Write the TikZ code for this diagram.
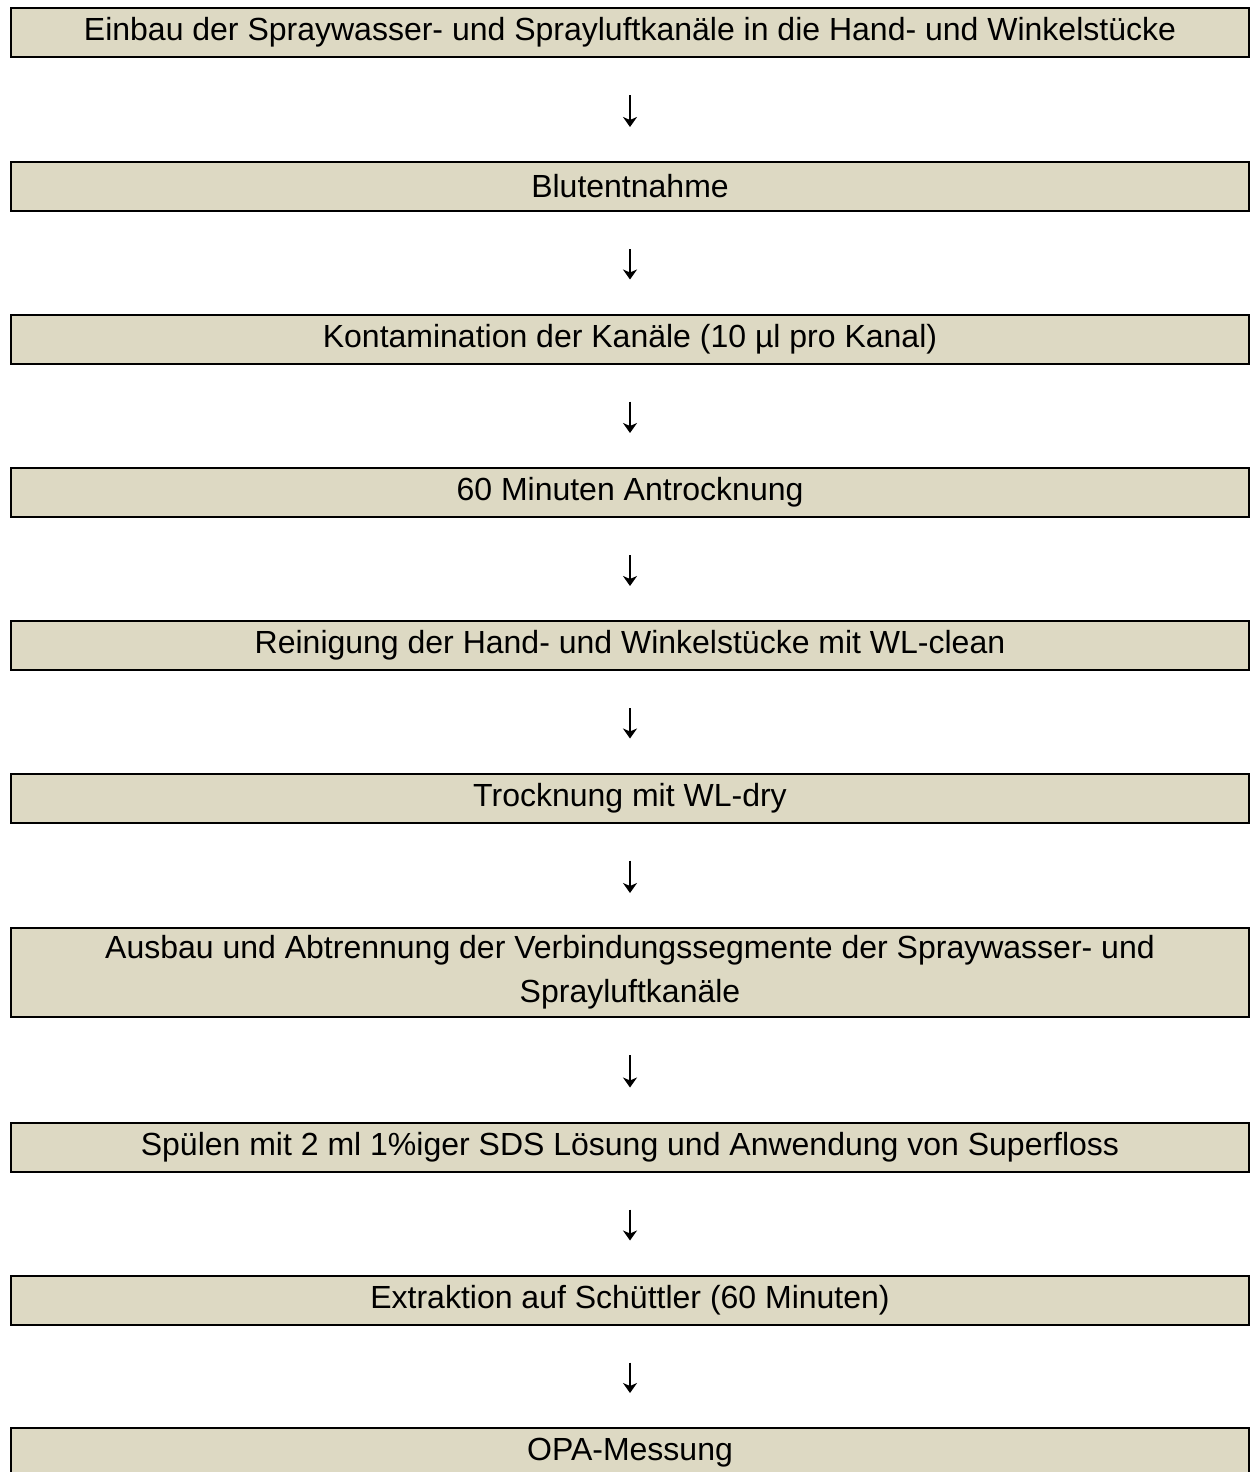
\documentclass[tikz,border=0pt]{standalone}
\usepackage{fontspec}
\setmainfont{Liberation Sans}
\usetikzlibrary{arrows.meta}
\definecolor{steptan}{HTML}{DDD9C3}
\tikzset{
    stepbox/.style={draw=black, fill=steptan, line width=2pt, minimum width=1238pt,
        minimum height=49pt, inner sep=0pt, align=center,
        font=\fontsize{32}{44}\selectfont},
    flowarrow/.style={line width=1.6pt, -{Stealth[length=10pt,width=14pt,inset=3pt]},
        shorten <=37pt, shorten >=34pt}
}
\begin{document}
\begin{tikzpicture}[x=1pt, y=-1pt]
    \useasboundingbox (0,0) rectangle (1251,1472);
    \node[stepbox] (einbau) at (630,32.5) {Einbau der Spraywasser- und Sprayluftkanäle in die Hand- und Winkelstücke};
    \node[stepbox] (blut) at (630,186.5) {Blutentnahme};
    \node[stepbox] (kontam) at (630,339) {Kontamination der Kanäle (10 µl pro Kanal)};
    \node[stepbox] (antrock) at (630,492.5) {60 Minuten Antrocknung};
    \node[stepbox] (reinig) at (630,645.5) {Reinigung der Hand- und Winkelstücke mit WL-clean};
    \node[stepbox] (trock) at (630,798) {Trocknung mit WL-dry};
    \node[stepbox, minimum height=89pt] (ausbau) at (630,972.5) {Ausbau und Abtrennung der Verbindungssegmente der Spraywasser- und\\Sprayluftkanäle};
    \node[stepbox] (spuel) at (630,1147) {Spülen mit 2 ml 1\%iger SDS Lösung und Anwendung von Superfloss};
    \node[stepbox] (extrak) at (630,1300) {Extraktion auf Schüttler (60 Minuten)};
    \node[stepbox] (opa) at (630,1452.5) {OPA-Messung};
    \foreach \a/\b in {einbau/blut, blut/kontam, kontam/antrock, antrock/reinig, reinig/trock,
        trock/ausbau, ausbau/spuel, spuel/extrak, extrak/opa}
    \draw[flowarrow] (\a) -- (\b);
\end{tikzpicture}
\end{document}
